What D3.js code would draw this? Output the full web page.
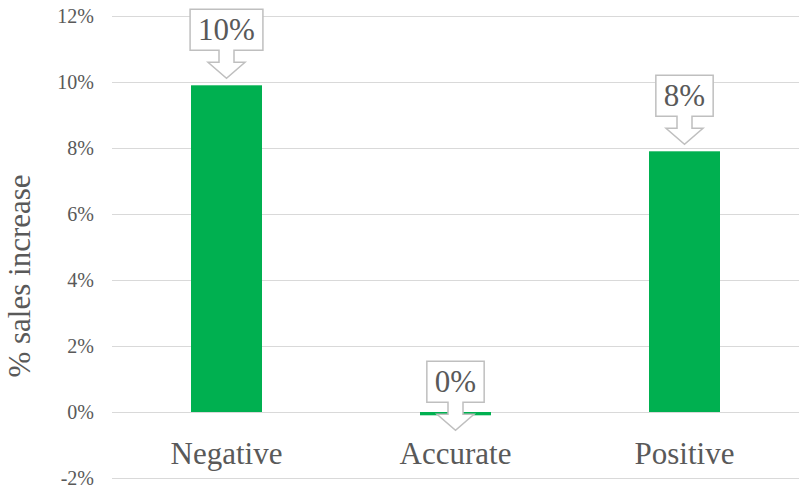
<!DOCTYPE html>
<html>
<head>
<meta charset="utf-8">
<script src="https://cdn.jsdelivr.net/npm/d3@7/dist/d3.min.js"></script>
<style>
  html, body { margin: 0; padding: 0; background: #fff; }
  svg { display: block; }
  text { font-family: "Liberation Serif", "Times New Roman", Times, "DejaVu Serif", "Noto Serif", serif; fill: #595959; }
</style>
</head>
<body>
<svg id="chart" width="799" height="494"></svg>
<script>
// Sales lift by forecast type
const categories = ["Negative", "Accurate", "Positive"];
const salesIncrease = [9.9, -0.1, 7.9];
const valueLabels = ["10%", "0%", "8%"];
const yTicks = [-2, 0, 2, 4, 6, 8, 10, 12];
const yTickLabels = ["-2%", "0%", "2%", "4%", "6%", "8%", "10%", "12%"];

const plot = { left: 112, right: 799, top: 16, bottom: 478 };

const svg = d3.select("#chart");

const x = d3.scaleBand()
  .domain(categories)
  .range([plot.left, plot.right])
  .paddingInner(0.69)
  .paddingOuter(0.345);

const y = d3.scaleLinear()
  .domain([-2, 12])
  .range([plot.bottom, plot.top]);

// Horizontal gridlines
svg.append("g")
  .selectAll("line")
  .data(yTicks)
  .join("line")
  .attr("x1", plot.left)
  .attr("x2", plot.right)
  .attr("y1", d => Math.round(y(d)) + 0.5)
  .attr("y2", d => Math.round(y(d)) + 0.5)
  .attr("stroke", "#D9D9D9")
  .attr("stroke-width", 1);

// Y axis tick labels
const yAxis = d3.axisLeft(y)
  .tickValues(yTicks)
  .tickSize(0)
  .tickPadding(0)
  .tickFormat((d, i) => yTickLabels[i]);

const yg = svg.append("g")
  .attr("transform", `translate(${plot.left - 18},0)`)
  .call(yAxis);
yg.attr("font-family", null).attr("font-size", null);
yg.select(".domain").remove();
yg.selectAll("text")
  .style("font-size", "20px")
  .attr("dy", "0.34em");

// Y axis title
svg.append("text")
  .attr("transform", "translate(30,276) rotate(-90)")
  .attr("text-anchor", "middle")
  .style("font-size", "31px")
  .text("% sales increase");

// Bars
const data = categories.map((c, i) => ({ cat: c, value: salesIncrease[i], label: valueLabels[i] }));

svg.append("g")
  .selectAll("rect")
  .data(data)
  .join("rect")
  .attr("x", d => x(d.cat))
  .attr("width", x.bandwidth())
  .attr("y", d => y(Math.max(0, d.value)))
  .attr("height", d => Math.max(2.5, Math.abs(y(d.value) - y(0))))
  .attr("fill", "#00B050");

// Category labels
svg.append("g")
  .selectAll("text")
  .data(categories)
  .join("text")
  .attr("x", d => x(d) + x.bandwidth() / 2)
  .attr("y", 464)
  .attr("text-anchor", "middle")
  .style("font-size", "31px")
  .text(d => d);

// Callout labels: box with a downward arrow pointing at the bar
const boxH = 41, stemH = 12, headH = 16, stemW = 15, headW = 37;
const callouts = svg.append("g");

data.forEach(d => {
  const cx = x(d.cat) + x.bandwidth() / 2;
  const tipY = d.value < 0 ? y(d.value) + 15 : y(d.value) - 7;
  const g = callouts.append("g");
  const t = g.append("text")
    .attr("text-anchor", "middle")
    .style("font-size", "31px")
    .text(d.label);
  const tw = t.node().getComputedTextLength();
  const bw = tw + 16;
  const top = tipY - headH - stemH - boxH;
  const bBot = top + boxH;
  const sBot = bBot + stemH;
  const l = cx - bw / 2, r = cx + bw / 2;
  const p = [
    [l, top], [r, top], [r, bBot],
    [cx + stemW / 2, bBot], [cx + stemW / 2, sBot],
    [cx + headW / 2, sBot], [cx, tipY],
    [cx - headW / 2, sBot], [cx - stemW / 2, sBot],
    [cx - stemW / 2, bBot], [l, bBot]
  ];
  g.insert("path", "text")
    .attr("d", "M" + p.map(q => q.join(",")).join("L") + "Z")
    .attr("fill", "#fff")
    .attr("stroke", "#BFBFBF")
    .attr("stroke-width", 1.5);
  t.attr("x", cx).attr("y", bBot - 10);
});
</script>
</body>
</html>
